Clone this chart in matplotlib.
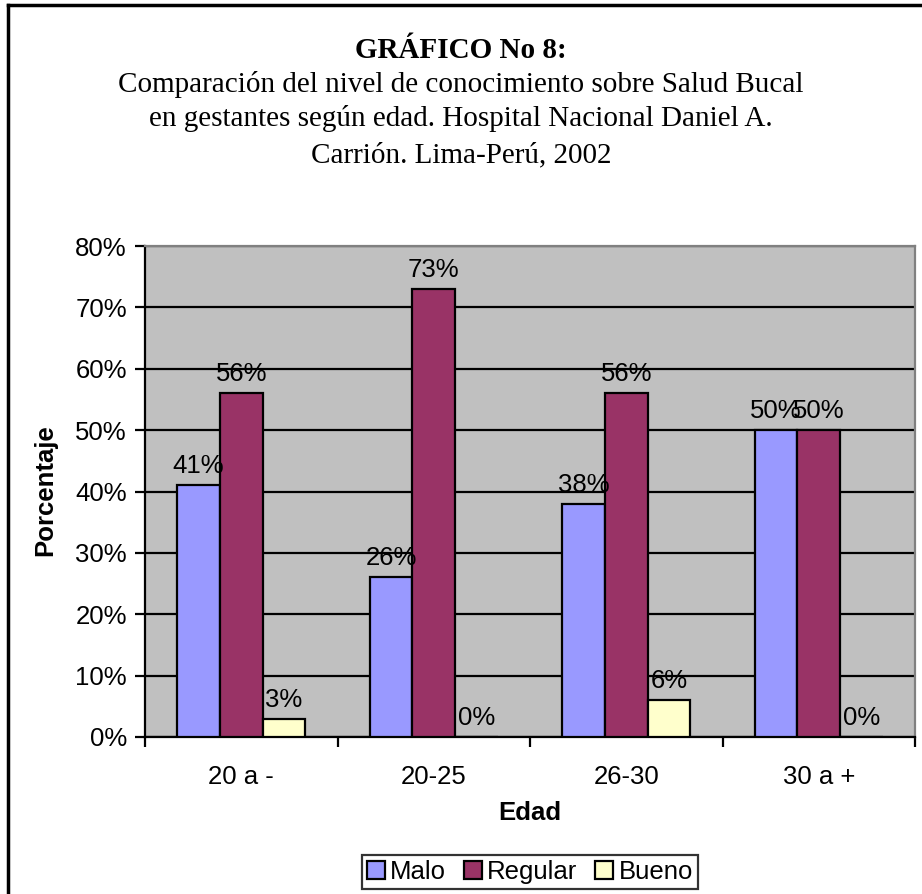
import matplotlib
matplotlib.use("Agg")
import matplotlib.pyplot as plt
import numpy as np
from matplotlib.lines import Line2D

categories = ["20 a -", "20-25", "26-30", "30 a +"]
series_names = ["Malo", "Regular", "Bueno"]
malo = [41, 26, 38, 50]
regular = [56, 73, 56, 50]
bueno = [3, 0, 6, 0]
yticks = [0, 10, 20, 30, 40, 50, 60, 70, 80]
colors = ["#9999FF", "#993366", "#FFFFCC"]

title_lines = ["Comparación del nivel de conocimiento sobre Salud Bucal",
               "en gestantes según edad. Hospital Nacional Daniel A.",
               "Carrión. Lima-Perú, 2002"]

fig = plt.figure(figsize=(9.22, 8.94), dpi=100)
ax = fig.add_axes([145/922, 1-737/894, (915-145)/922, (737-246)/894])
ax.set_facecolor("#C0C0C0")

x = np.arange(len(categories))
w = 2/9
sans = ["Liberation Sans", "DejaVu Sans"]
serif = ["Liberation Serif", "DejaVu Serif"]
fs = 18.5

for i, (name, vals, c) in enumerate(zip(series_names, [malo, regular, bueno], colors)):
    pos = x + (i - 1) * w
    ax.bar(pos, vals, width=w, color=c, edgecolor="black", linewidth=1.6, label=name, zorder=3)
    for px, v in zip(pos, vals):
        ax.annotate(f"{v}%", (px, v), xytext=(0, 5), textcoords="offset points",
                    ha="center", va="bottom", fontsize=fs, family=sans, zorder=4)

ax.set_xlim(-0.5, len(categories) - 0.5)
ax.set_ylim(0, 80)
ax.set_yticks(yticks)
ax.set_yticklabels([f"{t}%" for t in yticks], fontsize=fs, family=sans)
ax.set_xticks(np.arange(len(categories) + 1) - 0.5, minor=False)
ax.set_xticklabels([])
ax.set_xticks(x, minor=True)
ax.set_xticklabels(categories, minor=True, fontsize=fs, family=sans)
ax.tick_params(axis="x", which="minor", length=0, pad=20)
ax.tick_params(axis="x", which="major", length=7, width=1.6, direction="out")
ax.tick_params(axis="y", length=7, width=1.6, direction="out", pad=6)
ax.yaxis.grid(True, color="black", linewidth=1.6, zorder=0)
ax.set_axisbelow(True)
for s in ["left", "bottom"]:
    ax.spines[s].set_color("black")
    ax.spines[s].set_linewidth(1.6)
for s in ["top", "right"]:
    ax.spines[s].set_color("#808080")
    ax.spines[s].set_linewidth(1.6)

fig.text(530/922, 1-813/894, "Edad", ha="center", va="center", fontsize=fs, fontweight="bold", family=sans)
fig.text(45/922, 1-490/894, "Porcentaje", ha="center", va="center", rotation=90,
         fontsize=fs, fontweight="bold", family=sans)

tfs = 21
fig.text(461/922, 1-50/894, "GRÁFICO No 8:", ha="center", va="center", fontsize=tfs,
         fontweight="bold", family=serif)
for k, (line, yy) in enumerate(zip(title_lines, [84, 119, 155])):
    fig.text(461/922, 1-yy/894, line, ha="center", va="center", fontsize=tfs, family=serif)

leg = fig.legend(loc="center", bbox_to_anchor=(530/922, 1-872/894), ncol=3,
                 prop={"family": sans, "size": fs}, frameon=True, fancybox=False,
                 edgecolor="black", handlelength=0.7, handleheight=0.7, handletextpad=0.2,
                 columnspacing=0.7, borderpad=0.2, borderaxespad=0)
leg.get_frame().set_linewidth(1.6)

fig.add_artist(Line2D([8/922, 8/922], [0, 1-5/894], color="black", linewidth=2.5, transform=fig.transFigure))
fig.add_artist(Line2D([8/922, 1], [1-5/894, 1-5/894], color="black", linewidth=2.5, transform=fig.transFigure))

fig.savefig("out.png", dpi=100)
